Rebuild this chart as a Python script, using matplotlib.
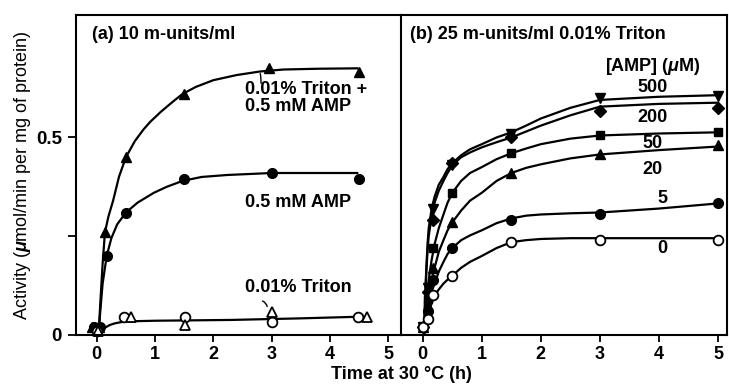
import matplotlib
matplotlib.use('Agg')
from matplotlib import pyplot as plt

plt.rcParams['font.family'] = ['Liberation Sans', 'DejaVu Sans']
plt.rcParams['font.weight'] = 'bold'
plt.rcParams['mathtext.fontset'] = 'custom'
plt.rcParams['mathtext.it'] = 'Liberation Sans:italic:bold'
plt.rcParams['mathtext.default'] = 'it'

# panel (a) measured points
a_tri_x = [-0.08, 0.03, 0.14, 0.5, 1.5, 2.95, 4.5]
a_tri_y = [0.02, 0.02, 0.26, 0.45, 0.61, 0.675, 0.665]
a_circ_x = [-0.05, 0.05, 0.17, 0.5, 1.5, 3.0, 4.5]
a_circ_y = [0.02, 0.02, 0.20, 0.31, 0.395, 0.41, 0.395]
a_ocirc_x = [0.0, 0.47, 1.52, 3.0, 4.48]
a_ocirc_y = [0.01, 0.045, 0.045, 0.033, 0.045]
a_otri_x = [0.02, 0.58, 1.52, 3.0, 4.64]
a_otri_y = [0.01, 0.045, 0.025, 0.058, 0.045]

# panel (a) drawn curves
a_tri_cx = [0.03, 0.06, 0.1, 0.14, 0.2, 0.28, 0.38, 0.5, 0.65, 0.8, 0.92, 1.1, 1.3, 1.47,
            1.7, 2.0, 2.4, 2.8, 3.2, 3.8, 4.47]
a_tri_cy = [0.0, 0.08, 0.18, 0.26, 0.30, 0.34, 0.40, 0.45, 0.49, 0.52, 0.54, 0.565, 0.59, 0.61,
            0.628, 0.645, 0.658, 0.667, 0.672, 0.674, 0.675]
a_circ_cx = [0.03, 0.06, 0.1, 0.17, 0.25, 0.35, 0.5, 0.7, 0.98, 1.2, 1.47, 1.8, 2.24, 3.0, 4.47]
a_circ_cy = [0.0, 0.06, 0.13, 0.20, 0.245, 0.28, 0.31, 0.335, 0.36, 0.375, 0.39, 0.40, 0.405, 0.41, 0.41]
a_trit_cx = [0.0, 0.05, 0.1, 0.16, 0.22, 0.3, 0.4, 0.5, 0.7, 1.0, 2.3, 3.5, 4.47]
a_trit_cy = [0.003, 0.008, 0.015, 0.02, 0.025, 0.029, 0.032, 0.034, 0.035, 0.036, 0.038, 0.042, 0.046]

# panel (b) measured points
amp = ['500', '200', '50', '20', '5', '0']
b_x = [0, 0.08, 0.17, 0.5, 1.5, 3, 5]
b_y = {
    '500': [0.02, 0.12, 0.32, 0.43, 0.51, 0.60, 0.606],
    '200': [0.02, 0.11, 0.29, 0.435, 0.50, 0.568, 0.575],
    '50': [0.02, 0.09, 0.22, 0.36, 0.46, 0.505, 0.513],
    '20': [0.02, 0.07, 0.17, 0.285, 0.41, 0.457, 0.48],
    '5': [0.02, 0.06, 0.14, 0.22, 0.29, 0.305, 0.333],
    '0': [0.02, 0.04, 0.10, 0.15, 0.235, 0.24, 0.24],
}
# panel (b) drawn curves
b_cx = [0.02, 0.04, 0.06, 0.08, 0.1, 0.15, 0.2, 0.27, 0.35, 0.42, 0.5, 0.65, 0.8, 1, 1.25,
        1.5, 1.75, 2, 2.5, 3, 4, 5]
b_cy = {
    '500': [0, 0.10, 0.17, 0.23, 0.27, 0.32, 0.35, 0.38, 0.40, 0.42, 0.435, 0.455, 0.47, 0.483,
            0.50, 0.513, 0.53, 0.548, 0.575, 0.595, 0.603, 0.607],
    '200': [0, 0.09, 0.16, 0.21, 0.25, 0.30, 0.335, 0.365, 0.39, 0.41, 0.43, 0.45, 0.462, 0.475,
            0.488, 0.50, 0.515, 0.53, 0.556, 0.578, 0.585, 0.588],
    '50': [0, 0.05, 0.08, 0.11, 0.14, 0.19, 0.23, 0.27, 0.305, 0.335, 0.36, 0.39, 0.41, 0.425,
           0.445, 0.46, 0.472, 0.483, 0.497, 0.505, 0.51, 0.513],
    '20': [0, 0.04, 0.06, 0.08, 0.10, 0.14, 0.17, 0.21, 0.24, 0.265, 0.285, 0.315, 0.34, 0.36,
           0.39, 0.41, 0.423, 0.432, 0.447, 0.457, 0.468, 0.477],
    '5': [0, 0.03, 0.05, 0.065, 0.08, 0.11, 0.13, 0.16, 0.185, 0.205, 0.22, 0.24, 0.252, 0.265,
          0.283, 0.295, 0.302, 0.305, 0.308, 0.31, 0.32, 0.333],
    '0': [0, 0.02, 0.03, 0.045, 0.055, 0.08, 0.10, 0.115, 0.13, 0.14, 0.15, 0.17, 0.185, 0.20,
          0.22, 0.235, 0.24, 0.243, 0.245, 0.245, 0.245, 0.245],
}
b_marker = {'500': 'v', '200': 'D', '50': 's', '20': '^', '5': 'o', '0': 'o'}
b_label_pos = {'500': (3.89, 0.626), '200': (3.89, 0.55), '50': (3.89, 0.485),
               '20': (3.89, 0.42), '5': (4.06, 0.346), '0': (4.06, 0.22)}

fig = plt.figure(figsize=(7.29, 3.85), dpi=100)
ax1 = fig.add_axes([0.104, 0.13, 0.446, 0.831])
ax2 = fig.add_axes([0.550, 0.13, 0.447, 0.831])
ax2.patch.set_visible(False)

lw = 1.6
ms = 7
fs = 13
ax1.plot(a_tri_cx, a_tri_cy, 'k-', lw=lw)
ax1.plot(a_circ_cx, a_circ_cy, 'k-', lw=lw)
ax1.plot(a_trit_cx, a_trit_cy, 'k-', lw=lw)
ax1.plot(a_tri_x, a_tri_y, 'k^', ms=ms, clip_on=False)
ax1.plot(a_circ_x, a_circ_y, 'ko', ms=ms, clip_on=False)
ax1.plot(a_ocirc_x, a_ocirc_y, 'o', mfc='white', mec='k', mew=1.3, ms=ms, clip_on=False)
ax1.plot(a_otri_x, a_otri_y, '^', mfc='white', mec='k', mew=1.3, ms=ms, clip_on=False)

ax1.text(0.05, 0.94, '(a) 10 m-units/ml', transform=ax1.transAxes, fontsize=fs, va='center')
ax1.text(2.55, 0.60, '0.01% Triton +\n0.5 mM AMP', fontsize=fs, va='center', linespacing=0.95)
ax1.text(2.55, 0.335, '0.5 mM AMP', fontsize=fs, va='center')
ax1.text(2.55, 0.12, '0.01% Triton', fontsize=fs, va='center')
ax1.annotate('', xy=(2.78, 0.668), xytext=(2.82, 0.63),
             arrowprops=dict(arrowstyle='-', lw=1, connectionstyle='angle3,angleA=90,angleB=0'))
ax1.annotate('', xy=(2.93, 0.065), xytext=(2.8, 0.088),
             arrowprops=dict(arrowstyle='-', lw=1, connectionstyle='arc3,rad=-0.4'))

for k in amp:
    ax2.plot(b_cx, b_cy[k], 'k-', lw=lw)
    if k == '0':
        ax2.plot(b_x, b_y[k], 'o', mfc='white', mec='k', mew=1.3, ms=ms, clip_on=False)
    else:
        m = ms - 1 if b_marker[k] in ('D', 's') else ms
        ax2.plot(b_x, b_y[k], b_marker[k], color='k', ms=m, clip_on=False)
    ax2.text(b_label_pos[k][0], b_label_pos[k][1], k, fontsize=fs, ha='center', va='center')
ax2.text(0.028, 0.94, '(b) 25 m-units/ml 0.01% Triton', transform=ax2.transAxes,
         fontsize=fs, va='center')
ax2.text(3.89, 0.68, r'[AMP] ($\mu$M)', fontsize=fs, ha='center', va='center')

for ax in (ax1, ax2):
    ax.set_ylim(0, 0.81)
    ax.set_xticks([0, 1, 2, 3, 4, 5])
    ax.tick_params(axis='x', direction='out', length=5, width=1.3, labelsize=13, pad=3)
    for s in ax.spines.values():
        s.set_linewidth(1.5)
ax1.set_xlim(-0.36, 5.22)
ax2.set_xlim(-0.37, 5.15)
ax1.set_yticks([0, 0.25, 0.5])
ax1.set_yticklabels(['0', '', '0.5'])
ax1.tick_params(axis='y', direction='out', length=6, width=1.3, labelsize=13.5, pad=4)
ax2.set_yticks([])
ax2.spines['left'].set_visible(False)

ax1.set_ylabel(r'Activity ($\mu$mol/min per mg of protein)', fontsize=13)
ax1.yaxis.set_label_coords(-0.133, 0.5)
fig.text(0.55, 0.005, 'Time at 30 \u00b0C (h)', fontsize=13, ha='center', va='bottom')

plt.savefig('out.png', dpi=100)
